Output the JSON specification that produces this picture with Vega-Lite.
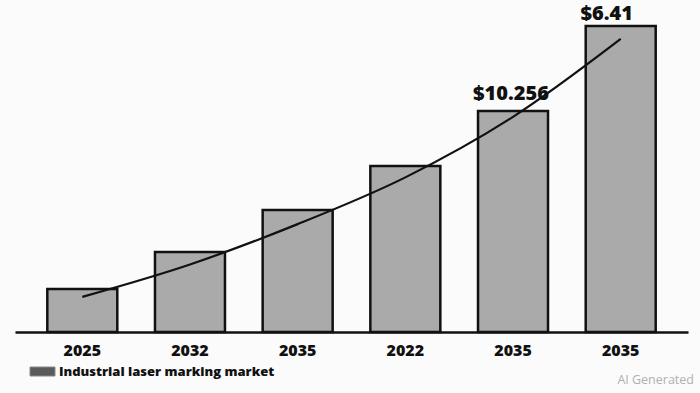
{
  "$schema": "https://vega.github.io/schema/vega-lite/v6.json",
  "width": 673,
  "height": 327,
  "autosize": {"type": "none"},
  "padding": {"left": 15, "top": 5, "right": 12, "bottom": 61},
  "background": "#fbfbfb",
  "config": {"view": {"stroke": null}, "font": "Open Sans"},
  "title": {"text": "AI Generated", "orient": "bottom", "anchor": "end", "frame": "bounds", "fontSize": 12.5, "fontWeight": "normal", "color": "#b0b0b0", "offset": 10, "dy": -15, "dx": 6},
  "data": {"values": [
    {"key": "2025|1", "series": "Industrial laser marking market", "value": 1.41, "trend": 1.15, "label": null},
    {"key": "2032|2", "series": "Industrial laser marking market", "value": 2.62, "trend": 2.21, "label": null},
    {"key": "2035|3", "series": "Industrial laser marking market", "value": 3.99, "trend": 3.53, "label": null},
    {"key": "2022|4", "series": "Industrial laser marking market", "value": 5.43, "trend": 5.06, "label": null},
    {"key": "2035|5", "series": "Industrial laser marking market", "value": 7.23, "trend": 7.04, "label": "$10.256"},
    {"key": "2035|6", "series": "Industrial laser marking market", "value": 10.01, "trend": 9.59, "label": "$6.41"}
  ]},
  "encoding": {
    "x": {"field": "key", "type": "nominal", "sort": null,
      "scale": {"paddingInner": 0.35, "paddingOuter": 0.3},
      "axis": {"title": null, "labelAngle": 0, "ticks": false, "domainColor": "#111", "domainWidth": 2.5,
        "labelExpr": "split(datum.value, '|')[0]", "labelFontSize": 16, "labelFontWeight": 800, "labelColor": "#111", "labelPadding": 10}}
  },
  "layer": [
    {
      "mark": {"type": "bar", "stroke": "#111", "strokeWidth": 2.5, "fill": "#aaaaaa"},
      "encoding": {
        "y": {"field": "value", "type": "quantitative", "scale": {"domain": [0, 10.7], "nice": false}, "axis": null}
      }
    },
    {
      "mark": {"type": "point", "filled": true, "size": 0, "opacity": 1},
      "encoding": {
        "y": {"field": "value", "type": "quantitative"},
        "color": {"field": "series", "type": "nominal", "scale": {"range": ["#5a5a5a"]},
          "legend": {"title": null, "orient": "none", "legendX": 17, "legendY": 356, "padding": 0,
            "symbolType": "M-1.25,-0.45H1.25V0.45H-1.25Z", "symbolSize": 400, "symbolStrokeWidth": 1, "symbolStrokeColor": "#888", "symbolOpacity": 1,
            "labelFontSize": 13, "labelFontWeight": 800, "labelColor": "#111", "labelOffset": 6, "labelLimit": 400}}
      }
    },
    {
      "mark": {"type": "line", "color": "#111", "strokeWidth": 2.2, "interpolate": "monotone"},
      "encoding": {"y": {"field": "trend", "type": "quantitative"}}
    },
    {
      "transform": [{"filter": "datum.label == '$10.256'"}],
      "mark": {"type": "text", "fontSize": 20, "fontWeight": 800, "color": "#111", "baseline": "alphabetic", "dy": -11, "dx": -2},
      "encoding": {"y": {"field": "value", "type": "quantitative"}, "text": {"field": "label"}}
    },
    {
      "transform": [{"filter": "datum.label == '$6.41'"}],
      "mark": {"type": "text", "fontSize": 20, "fontWeight": 800, "color": "#111", "baseline": "alphabetic", "dy": -6, "dx": -14},
      "encoding": {"y": {"field": "value", "type": "quantitative"}, "text": {"field": "label"}}
    }
  ]
}
